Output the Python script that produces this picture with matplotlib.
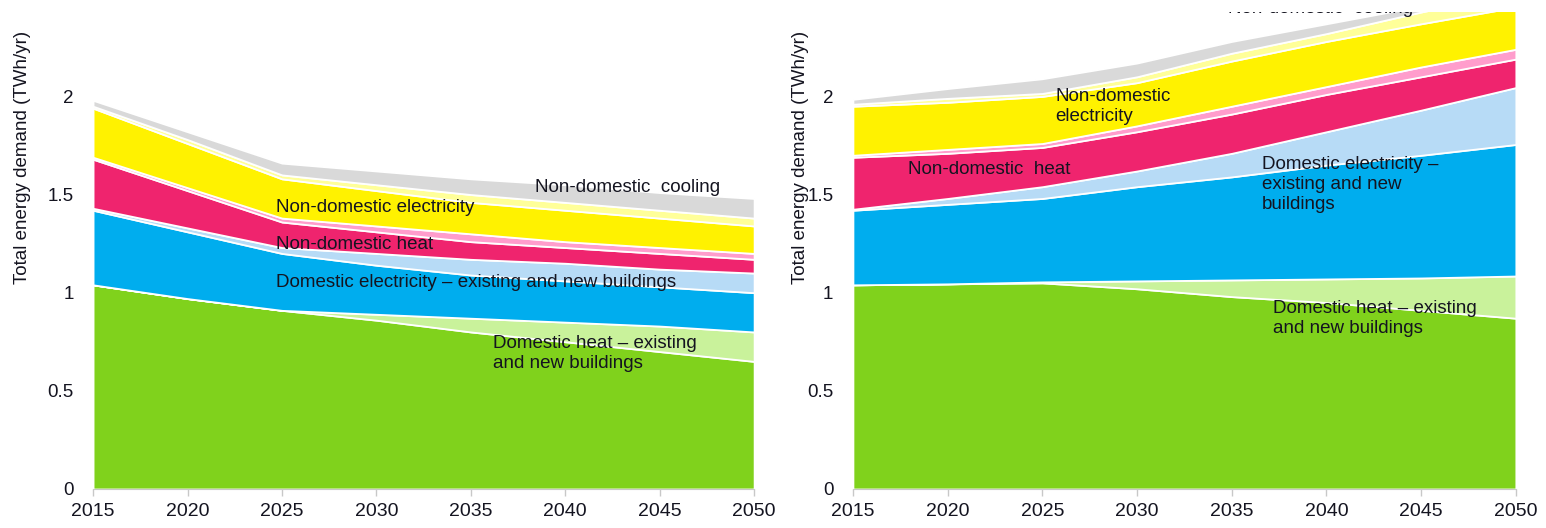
import matplotlib
matplotlib.use("Agg")
import matplotlib.pyplot as plt
import numpy as np

plt.rcParams['font.family'] = ['Liberation Sans', 'DejaVu Sans']

years = [2015, 2020, 2025, 2030, 2035, 2040, 2045, 2050]

layer_names = ['Domestic heat (existing)', 'Domestic heat (new)',
               'Domestic electricity (existing)', 'Domestic electricity (new)',
               'Non-domestic heat', 'Non-domestic heat (new)',
               'Non-domestic electricity', 'Non-domestic electricity (new)',
               'Non-domestic cooling']
colors = ['#80d21c', '#c9f29b', '#00adee', '#b7dbf6', '#ef246e',
          '#ff9dcc', '#fff200', '#ffff99', '#d9d9d9']

# left scenario (TWh/yr per layer)
left_dom_heat = [1.04, 0.97, 0.91, 0.86, 0.80, 0.75, 0.70, 0.65]
left_dom_heat_new = [0.0, 0.0, 0.0, 0.03, 0.07, 0.10, 0.13, 0.15]
left_dom_elec = [0.38, 0.34, 0.29, 0.25, 0.22, 0.21, 0.20, 0.20]
left_dom_elec_new = [0.01, 0.02, 0.03, 0.06, 0.08, 0.09, 0.09, 0.10]
left_nd_heat = [0.25, 0.19, 0.13, 0.11, 0.09, 0.08, 0.08, 0.07]
left_nd_heat_new = [0.01, 0.015, 0.02, 0.03, 0.04, 0.03, 0.03, 0.03]
left_nd_elec = [0.25, 0.225, 0.20, 0.18, 0.16, 0.16, 0.15, 0.14]
left_nd_elec_new = [0.01, 0.02, 0.02, 0.03, 0.04, 0.04, 0.04, 0.04]
left_nd_cool = [0.03, 0.04, 0.06, 0.07, 0.08, 0.09, 0.09, 0.10]

# right scenario
right_dom_heat = [1.04, 1.045, 1.05, 1.02, 0.98, 0.95, 0.91, 0.87]
right_dom_heat_new = [0.0, 0.0, 0.005, 0.04, 0.085, 0.12, 0.165, 0.215]
right_dom_elec = [0.38, 0.405, 0.425, 0.48, 0.525, 0.58, 0.625, 0.67]
right_dom_elec_new = [0.005, 0.03, 0.06, 0.08, 0.12, 0.17, 0.23, 0.29]
right_nd_heat = [0.265, 0.23, 0.20, 0.20, 0.20, 0.19, 0.17, 0.145]
right_nd_heat_new = [0.01, 0.02, 0.02, 0.03, 0.04, 0.04, 0.05, 0.05]
right_nd_elec = [0.25, 0.24, 0.24, 0.22, 0.23, 0.23, 0.22, 0.215]
right_nd_elec_new = [0.01, 0.02, 0.015, 0.03, 0.04, 0.04, 0.06, 0.075]
right_nd_cool = [0.025, 0.05, 0.075, 0.07, 0.06, 0.05, 0.03, 0.02]

left_layers = [left_dom_heat, left_dom_heat_new, left_dom_elec, left_dom_elec_new,
               left_nd_heat, left_nd_heat_new, left_nd_elec, left_nd_elec_new,
               left_nd_cool]
right_layers = [right_dom_heat, right_dom_heat_new, right_dom_elec, right_dom_elec_new,
                right_nd_heat, right_nd_heat_new, right_nd_elec, right_nd_elec_new,
                right_nd_cool]

txt = '#141420'
fig = plt.figure(figsize=(15.46, 5.28), dpi=100)
ax1 = fig.add_axes([0.0602, 0.0739, 0.4276, 0.9034])
ax2 = fig.add_axes([0.5517, 0.0739, 0.4288, 0.9034])

for ax, layers, lab_x in [(ax1, left_layers, -0.094), (ax2, right_layers, -0.066)]:
    ax.stackplot(years, *layers, colors=colors, edgecolor='white', linewidth=1.3)
    ax.set_xlim(2015, 2050)
    ax.set_ylim(0, 2.43)
    ax.set_xticks(range(2015, 2051, 5))
    ax.set_yticks([0, 0.5, 1, 1.5, 2])
    ax.set_yticklabels(['0', '0.5', '1', '1.5', '2'])
    for s in ['top', 'right', 'left']:
        ax.spines[s].set_visible(False)
    ax.spines['bottom'].set_color('#c8c8c8')
    ax.tick_params(axis='x', colors='#c8c8c8', length=5, width=1, pad=5,
                   labelcolor=txt, labelsize=14)
    ax.tick_params(axis='y', length=0, pad=14, labelcolor=txt, labelsize=13.5)
    ax.set_ylabel('Total energy demand (TWh/yr)', fontsize=13.5, color=txt)
    ax.yaxis.set_label_coords(lab_x, 0.696)

fs = 13.5
ax1.text(2038.4, 1.536, 'Non-domestic  cooling', fontsize=fs, color=txt, va='center')
ax1.text(2024.7, 1.434, 'Non-domestic electricity', fontsize=fs, color=txt, va='center')
ax1.text(2024.7, 1.245, 'Non-domestic heat', fontsize=fs, color=txt, va='center')
ax1.text(2024.7, 1.05, 'Domestic electricity \u2013 existing and new buildings',
         fontsize=fs, color=txt, va='center')
ax1.text(2036.2, 0.69, 'Domestic heat \u2013 existing\nand new buildings',
         fontsize=fs, color=txt, va='center', linespacing=1.25)

ax2.text(2034.8, 2.45, 'Non-domestic  cooling', fontsize=fs, color=txt,
         va='center', clip_on=True)
ax2.text(2025.7, 1.95, 'Non-domestic\nelectricity', fontsize=fs, color=txt,
         va='center', linespacing=1.25)
ax2.text(2017.9, 1.63, 'Non-domestic  heat', fontsize=fs, color=txt, va='center')
ax2.text(2036.6, 1.55, 'Domestic electricity \u2013\nexisting and new\nbuildings',
         fontsize=fs, color=txt, va='center', linespacing=1.25)
ax2.text(2037.2, 0.87, 'Domestic heat \u2013 existing\nand new buildings',
         fontsize=fs, color=txt, va='center', linespacing=1.25)

fig.savefig('out.png', dpi=100)
